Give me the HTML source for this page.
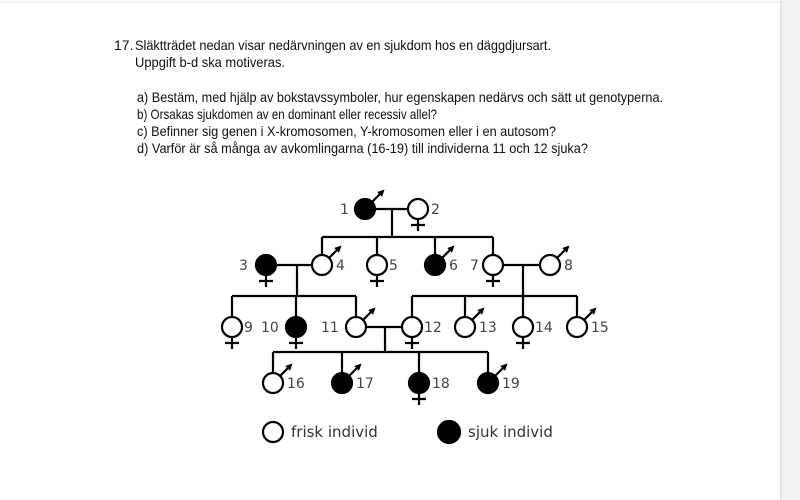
<!DOCTYPE html>
<html><head><meta charset="utf-8"><style>
html,body{margin:0;padding:0;background:#fff}
svg{display:block}
.t{font-family:"Liberation Sans",sans-serif;font-size:14px;fill:#111}
.l{font-family:"DejaVu Sans","Liberation Sans",sans-serif;font-size:14px;fill:#444}
.g{font-family:"DejaVu Sans","Liberation Sans",sans-serif;font-size:15px;fill:#333}
</style></head><body>
<svg width="800" height="500" viewBox="0 0 800 500" xmlns="http://www.w3.org/2000/svg">
<defs><marker id="a" viewBox="0 0 10 10" refX="7" refY="5" markerWidth="3.2" markerHeight="3.2" orient="auto"><path d="M0,0L10,5L0,10z" fill="#000"/></marker></defs>
<rect x="0" y="0" width="800" height="500" fill="#fff"/>
<rect x="781" y="0" width="19" height="500" fill="#f3f2f1"/>
<line x1="781" y1="0" x2="781" y2="500" stroke="#ddd" stroke-width="1.5"/>
<line x1="0" y1="2" x2="781" y2="2" stroke="#e8e8e8" stroke-width="1"/>
<text class="t" x="114" y="50">17.</text>
<text class="t" x="135" y="50" textLength="416" lengthAdjust="spacingAndGlyphs">Släktträdet nedan visar nedärvningen av en sjukdom hos en däggdjursart.</text>
<text class="t" x="135" y="67" textLength="150" lengthAdjust="spacingAndGlyphs">Uppgift b-d ska motiveras.</text>
<text class="t" x="137" y="102" textLength="526" lengthAdjust="spacingAndGlyphs">a) Bestäm, med hjälp av bokstavssymboler, hur egenskapen nedärvs och sätt ut genotyperna.</text>
<text class="t" x="137" y="119" textLength="300" lengthAdjust="spacingAndGlyphs">b) Orsakas sjukdomen av en dominant eller recessiv allel?</text>
<text class="t" x="137" y="136" textLength="419" lengthAdjust="spacingAndGlyphs">c) Befinner sig genen i X-kromosomen, Y-kromosomen eller i en autosom?</text>
<text class="t" x="137" y="153" textLength="451" lengthAdjust="spacingAndGlyphs">d) Varför är så många av avkomlingarna (16-19) till individerna 11 och 12 sjuka?</text>
<g stroke="#000" stroke-width="2.2" fill="none">
<path d="M374 209H409M392 209V237M322 237H493M322 237V256M377 237V256M435 237V256M493 237V256"/>
<path d="M275 265H313M297 265V296M232 296H356M232 296V318M296 296V318M356 296V318"/>
<path d="M502 265H541M523 265V296M412 296H577M412 296V318M465 296V318M523 296V318M577 296V318"/>
<path d="M365 327H403M385 327V352M273 352H488M273 352V374M342 352V374M419 352V374M488 352V374"/>
</g>
<g stroke="#000" stroke-width="2.2">
<circle cx="365" cy="209" r="10" fill="#000"/><line x1="372" y1="202" x2="383" y2="191" marker-end="url(#a)"/>
<circle cx="418" cy="209" r="10" fill="#fff"/><path d="M418 219V231M411 225H425" fill="none"/>
<circle cx="266" cy="265" r="10" fill="#000"/><path d="M266 275V287M259 281H273" fill="none"/>
<circle cx="322" cy="265" r="10" fill="#fff"/><line x1="329" y1="258" x2="340" y2="247" marker-end="url(#a)"/>
<circle cx="377" cy="265" r="10" fill="#fff"/><path d="M377 275V287M370 281H384" fill="none"/>
<circle cx="435" cy="265" r="10" fill="#000"/><line x1="442" y1="258" x2="453" y2="247" marker-end="url(#a)"/>
<circle cx="493" cy="265" r="10" fill="#fff"/><path d="M493 275V287M486 281H500" fill="none"/>
<circle cx="550" cy="265" r="10" fill="#fff"/><line x1="557" y1="258" x2="568" y2="247" marker-end="url(#a)"/>
<circle cx="232" cy="327" r="10" fill="#fff"/><path d="M232 337V349M225 343H239" fill="none"/>
<circle cx="296" cy="327" r="10" fill="#000"/><path d="M296 337V349M289 343H303" fill="none"/>
<circle cx="356" cy="327" r="10" fill="#fff"/><line x1="363" y1="320" x2="374" y2="309" marker-end="url(#a)"/>
<circle cx="412" cy="327" r="10" fill="#fff"/><path d="M412 337V349M405 343H419" fill="none"/>
<circle cx="465" cy="327" r="10" fill="#fff"/><line x1="472" y1="320" x2="483" y2="309" marker-end="url(#a)"/>
<circle cx="523" cy="327" r="10" fill="#fff"/><path d="M523 337V349M516 343H530" fill="none"/>
<circle cx="577" cy="327" r="10" fill="#fff"/><line x1="584" y1="320" x2="595" y2="309" marker-end="url(#a)"/>
<circle cx="273" cy="383" r="10" fill="#fff"/><line x1="280" y1="376" x2="291" y2="365" marker-end="url(#a)"/>
<circle cx="342" cy="383" r="10" fill="#000"/><line x1="349" y1="376" x2="360" y2="365" marker-end="url(#a)"/>
<circle cx="419" cy="383" r="10" fill="#000"/><path d="M419 393V405M412 399H426" fill="none"/>
<circle cx="488" cy="383" r="10" fill="#000"/><line x1="495" y1="376" x2="506" y2="365" marker-end="url(#a)"/>
<circle cx="273" cy="432" r="10" fill="#fff"/>
<circle cx="449" cy="432" r="11" fill="#000"/>
</g>
<g class="l">
<text x="340" y="214">1</text><text x="431" y="214">2</text>
<text x="239" y="270">3</text><text x="336" y="270">4</text><text x="389" y="270">5</text><text x="449" y="270">6</text><text x="470" y="270">7</text><text x="564" y="270">8</text>
<text x="244" y="332">9</text><text x="261" y="332">10</text><text x="321" y="332">11</text><text x="424" y="332">12</text><text x="479" y="332">13</text><text x="535" y="332">14</text><text x="591" y="332">15</text>
<text x="287" y="388">16</text><text x="356" y="388">17</text><text x="432" y="388">18</text><text x="502" y="388">19</text>
</g>
<text class="g" x="291" y="437">frisk individ</text>
<text class="g" x="468" y="437">sjuk individ</text>
</svg>
</body></html>
